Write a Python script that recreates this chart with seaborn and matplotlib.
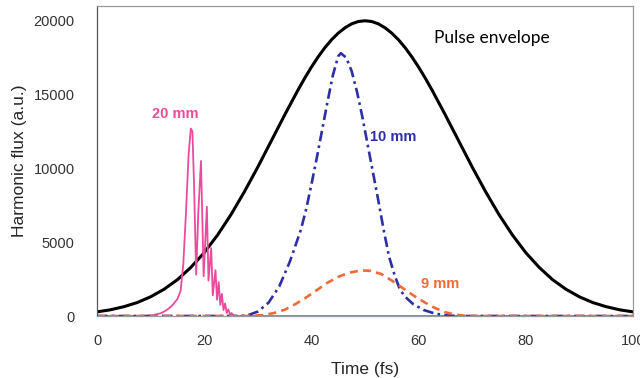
import matplotlib
matplotlib.use("Agg")
import matplotlib.pyplot as plt
import seaborn as sns
import pandas as pd

# Pulse envelope (black)
env_t = [0, 2.5, 5, 7.5, 10, 12.5, 15, 17.5, 20, 22.5, 25, 27.5, 30, 32.5, 35, 37.5,
         38.75, 40, 41.25, 42.5, 43.75, 45, 46.25, 47.5, 48.75, 50, 51.25, 52.5, 53.75,
         55, 56.25, 57.5, 58.75, 60, 61.25, 62.5, 65, 67.5, 70, 72.5, 75, 77.5, 80,
         82.5, 85, 87.5, 90, 92.5, 95, 97.5, 100]
env_flux = [280, 420, 630, 910, 1300, 1810, 2460, 3290, 4290, 5490, 6870, 8420, 10090,
            11850, 13610, 15310, 16110, 16860, 17550, 18170, 18710, 19160, 19520, 19790,
            19950, 20000, 19950, 19790, 19520, 19160, 18710, 18170, 17550, 16860, 16110,
            15310, 13610, 11850, 10090, 8420, 6870, 5490, 4290, 3290, 2460, 1810, 1300,
            910, 630, 420, 280]

# 20 mm (pink)
mm20_t = [0, 9, 10.5, 12, 13, 14, 15, 15.6, 16.1, 16.6, 17.1, 17.5, 17.8, 18.1, 18.5,
          18.9, 19.4, 19.9, 20.5, 20.8, 21.3, 21.6, 22.1, 22.4, 22.7, 23.0, 23.3, 23.6,
          23.9, 24.2, 24.5, 24.8, 25.1, 25.5, 26, 100]
mm20_flux = [0, 0, 60, 200, 400, 700, 1150, 1700, 3500, 7000, 11000, 12700, 12500, 9000,
             2800, 7000, 10500, 2700, 7400, 2400, 4600, 1400, 3100, 1100, 2300, 750, 1500,
             400, 850, 200, 450, 100, 200, 30, 0, 0]

# 10 mm (blue, dash-dot)
mm10_t = [0, 26, 28, 30, 32, 34, 36, 38, 39, 40, 41, 42, 43, 44, 45, 45.5, 46.5, 47.5,
          48.5, 49.5, 50.5, 51.5, 52.5, 53.5, 54.5, 55.5, 56.5, 57.5, 59, 61, 63, 65, 67, 100]
mm10_flux = [0, 0, 30, 300, 900, 2000, 3700, 5800, 7200, 8900, 10700, 12600, 14500, 16300,
             17600, 17800, 17500, 16600, 15200, 13500, 11600, 9700, 7800, 5800, 4000, 2800,
             1800, 1300, 800, 400, 170, 50, 0, 0]

# 9 mm (orange, dashed)
mm9_t = [0, 28, 31, 33, 35, 37, 39, 41, 43, 45, 47, 49, 50, 51, 53, 55, 57, 59, 61, 63,
         65, 67, 69, 72, 100]
mm9_flux = [0, 0, 60, 200, 420, 800, 1250, 1750, 2250, 2650, 2930, 3070, 3080, 3060, 2850,
            2400, 1900, 1400, 950, 550, 250, 80, 10, 0, 0]

sns.set_style("white")
plt.rcParams["font.family"] = ["Liberation Sans", "DejaVu Sans"]

fig = plt.figure(figsize=(6.4, 3.78), dpi=100)
ax = fig.add_axes([97 / 640, 1 - 316 / 378, 536 / 640, 310 / 378])

series = [
    (env_t, env_flux, "black", "-", 2.2),
    (mm20_t, mm20_flux, "#EC4A9C", "-", 1.3),
    (mm10_t, mm10_flux, "#2E2EA6", (0, (4, 1.6, 1, 1.6)), 1.9),
    (mm9_t, mm9_flux, "#F06A35", (0, (3, 2)), 1.9),
]
for t, f, color, ls, lw in series:
    df = pd.DataFrame({"t": t, "flux": f})
    sns.lineplot(data=df, x="t", y="flux", ax=ax, color=color, linestyle=ls,
                 linewidth=lw, estimator=None, sort=False)

ax.set_xlim(0, 100)
ax.set_ylim(0, 21000)
ax.set_xticks([0, 20, 40, 60, 80, 100])
ax.set_yticks([0, 5000, 10000, 15000, 20000])
ax.tick_params(axis="both", direction="out", length=5, width=0.8, color="#555555",
               labelsize=10.5, labelcolor="#333333")
ax.tick_params(axis="x", pad=8)
ax.tick_params(axis="y", pad=11)
for sp in ax.spines.values():
    sp.set_color("#999999")
    sp.set_linewidth(0.9)
ax.spines["left"].set_color("#555555")

ax.set_xlabel("Time (fs)", fontsize=12.5, labelpad=10)
ax.set_ylabel("Harmonic flux (a.u.)", fontsize=12.5, labelpad=5)

ax.text(14.6, 13700, "20 mm", color="#EC4A9C", fontsize=10.5, fontweight="bold",
        ha="center", va="center")
ax.text(51.0, 12100, "10 mm", color="#2E2EA6", fontsize=10.5, fontweight="bold",
        ha="left", va="center")
ax.text(60.4, 2150, "9 mm", color="#F06A35", fontsize=10.5, fontweight="bold",
        ha="left", va="center")
ax.text(62.8, 18850, "Pulse envelope", color="black", fontsize=12.5, family="Lato",
        ha="left", va="center")

fig.savefig("out.png", dpi=100)
